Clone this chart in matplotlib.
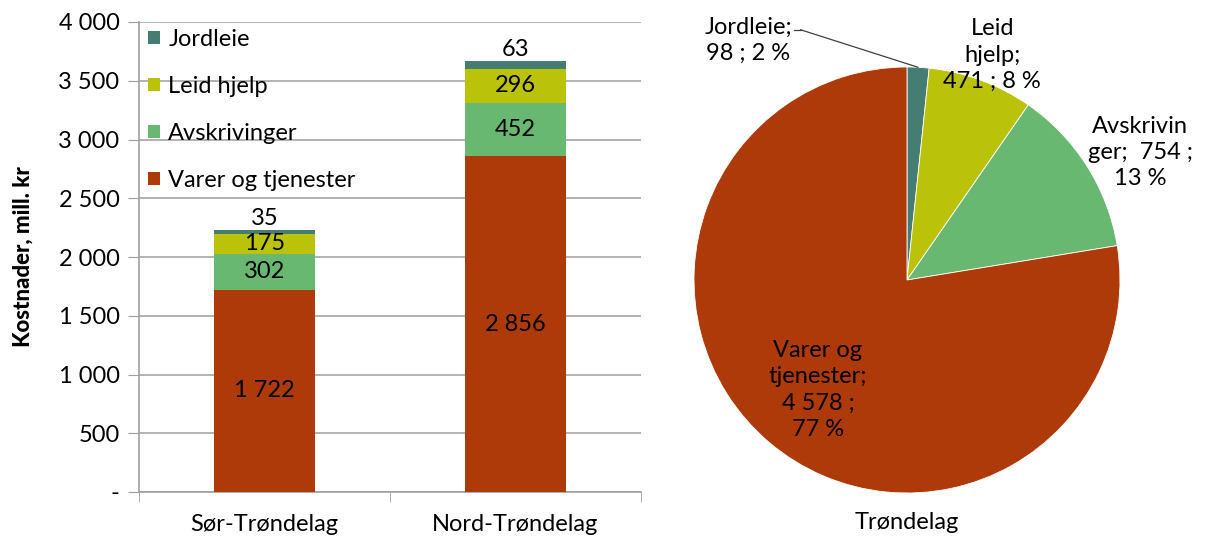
import matplotlib
matplotlib.use("Agg")
import matplotlib.pyplot as plt
from matplotlib.ticker import FuncFormatter, FixedLocator
import numpy as np

plt.rcParams['font.family'] = ['Lato', 'DejaVu Sans']

regions = ["Sør-Trøndelag", "Nord-Trøndelag"]
series = ["Varer og tjenester", "Avskrivinger", "Leid hjelp", "Jordleie"]
varer = [1722, 2856]
avskrivinger = [302, 452]
leid_hjelp = [175, 296]
jordleie = [35, 63]
colors = {"Varer og tjenester": "#AE3A0A", "Avskrivinger": "#69B871",
          "Leid hjelp": "#BBC20A", "Jordleie": "#457D73"}

pie_labels = ["Jordleie", "Leid hjelp", "Avskrivinger", "Varer og tjenester"]
pie_values = [98, 471, 754, 4578]
pie_pct = [2, 8, 13, 77]
pie_title = "Trøndelag"

FS = 17


def fmt(v):
    return f"{int(round(v)):,}".replace(",", " ")


W, H = 1207, 539
fig = plt.figure(figsize=(W / 100, H / 100), dpi=100)

# ---- bar chart
ax = fig.add_axes([139 / W, 1 - 492 / H, (641 - 139) / W, (492 - 22) / H])
x = np.arange(len(regions))
data = [varer, avskrivinger, leid_hjelp, jordleie]
bottom = np.zeros(len(regions))
bars = {}
for name, vals in zip(series, data):
    b = ax.bar(x, vals, width=0.4, bottom=bottom, color=colors[name], label=name, zorder=3)
    bars[name] = b
    for xi, (v, bt) in enumerate(zip(vals, bottom)):
        if name == "Jordleie":
            ax.text(xi, bt + v + 8, fmt(v), ha="center", va="bottom", fontsize=FS, zorder=4)
        else:
            ax.text(xi, bt + v / 2, fmt(v), ha="center", va="center", fontsize=FS, zorder=4)
    bottom = bottom + np.array(vals)

ax.set_xlim(-0.5, len(regions) - 0.5)
ax.set_ylim(0, 4000)
ax.yaxis.set_major_locator(FixedLocator(np.arange(0, 4001, 500)))
ax.yaxis.set_major_formatter(FuncFormatter(lambda v, p: "-" if v == 0 else fmt(v)))
ax.set_xticks(x)
ax.set_xticklabels(regions, fontsize=FS)
ax.xaxis.set_minor_locator(FixedLocator([-0.5, 0.5, 1.5]))
ax.tick_params(axis="x", which="major", length=0, pad=16)
ax.tick_params(axis="x", which="minor", length=7, color="#A0A0A0", direction="out")
ax.tick_params(axis="y", length=8, color="#A0A0A0", labelsize=FS, pad=6)
ax.grid(axis="y", color="#A6A6A6", linewidth=1.2, zorder=0)
for s in ["top", "right"]:
    ax.spines[s].set_visible(False)
for s in ["left", "bottom"]:
    ax.spines[s].set_color("#A0A0A0")
    ax.spines[s].set_linewidth(1.2)
ax.set_ylabel("Kostnader, mill. kr", fontsize=16, fontweight="black", labelpad=18)

handles = [bars[n][0] for n in reversed(series)]
leg = ax.legend(handles, list(reversed(series)), loc="upper left",
                bbox_to_anchor=(-0.005, 1.01), frameon=False, fontsize=FS,
                handlelength=0.5, handleheight=0.5, handletextpad=0.35,
                labelspacing=1.1, borderaxespad=0.2, borderpad=0.3)

# ---- pie chart
cx, cy, r = 907, 280, 213
pax = fig.add_axes([(cx - r) / W, (H - cy - r) / H, 2 * r / W, 2 * r / H])
wedges, _ = pax.pie(pie_values, startangle=90, counterclock=False,
                    colors=[colors[n] for n in pie_labels], radius=1,
                    wedgeprops=dict(linewidth=0.6, edgecolor="white"))
pax.set_xlim(-1, 1)
pax.set_ylim(-1, 1)
pax.set_aspect("equal")
pax.axis("off")

lbl = {
    "Jordleie": ("Jordleie;\n{v} ; {p} %", (-0.746, 1.127)),
    "Leid hjelp": ("Leid\nhjelp;\n{v} ; {p} %", (0.40, 1.056)),
    "Avskrivinger": ("Avskrivin\nger;  {v} ;\n{p} %", (1.094, 0.60)),
    "Varer og tjenester": ("Varer og\ntjenester;\n{v} ;\n{p} %", (-0.418, -0.516)),
}
for name, v, pc in zip(pie_labels, pie_values, pie_pct):
    base, pos = lbl[name]
    pax.text(pos[0], pos[1], base.format(v=fmt(v), p=pc), ha="center", va="center",
             fontsize=FS, linespacing=1.3, clip_on=False)

# leader line for Jordleie
th = np.deg2rad(90 - 360 * pie_values[0] / sum(pie_values) / 2)
pax.annotate("", xy=(np.cos(th) * 1.0, np.sin(th) * 1.0), xytext=(-0.50, 1.175),
             arrowprops=dict(arrowstyle="-", color="#404040", lw=0.9,
                             shrinkA=0, shrinkB=0),
             annotation_clip=False)
pax.plot([-0.53, -0.50], [1.175, 1.175], color="#404040", lw=0.9, clip_on=False)
pax.text(0, -1.14, pie_title, ha="center", va="center", fontsize=FS, clip_on=False)

fig.savefig("out.png", dpi=100)
